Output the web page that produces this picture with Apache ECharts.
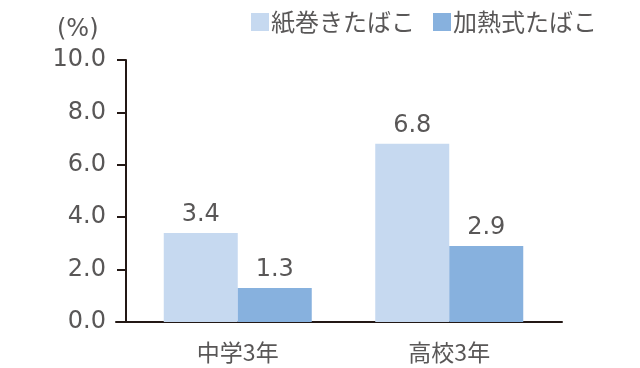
<!DOCTYPE html>
<html>
<head>
<meta charset="utf-8">
<script src="https://cdn.jsdelivr.net/npm/echarts@6/dist/echarts.min.js"></script>
<style>html,body{margin:0;padding:0;background:#fff;}#c{width:640px;height:368px;}</style>
</head>
<body>
<div id="c"></div>
<script>
const categories = ['中学3年', '高校3年'];
const seriesNames = ['紙巻きたばこ', '加熱式たばこ'];
const cigarettes = [3.4, 6.8];
const heated = [1.3, 2.9];
const yTicks = [0, 2, 4, 6, 8, 10];

const textGray = '#595757';
const axisColor = '#231815';
const numFont = 'DejaVu Sans';
const cjkFont = 'Noto Sans CJK JP';

const chart = echarts.init(document.getElementById('c'), null, {renderer: 'canvas'});
chart.setOption({
  animation: false,
  title: {
    text: '(%)', left: 52, top: 13,
    textStyle: {fontFamily: numFont, fontSize: 24, fontWeight: 'normal', color: textGray}
  },
  legend: {
    data: seriesNames, left: 246, top: 5, icon: 'rect',
    itemWidth: 18, itemHeight: 18, itemGap: 18,
    textStyle: {fontFamily: cjkFont, fontSize: 24, color: textGray, padding: [0, 0, 0, -3]}
  },
  grid: [
    {left: 132, right: 85, top: 60, bottom: 46},
    {left: 116, right: 78, top: 60, bottom: 46}
  ],
  xAxis: [
    {
      type: 'category', data: categories, gridIndex: 0,
      axisLine: {show: false}, axisTick: {show: false},
      axisLabel: {fontFamily: cjkFont, fontSize: 23, color: textGray, margin: 19}
    },
    {
      type: 'value', gridIndex: 1, min: 0, max: 1,
      axisLine: {show: true, lineStyle: {color: axisColor, width: 2}},
      axisTick: {show: false}, axisLabel: {show: false}, splitLine: {show: false}
    }
  ],
  yAxis: [
    {
      type: 'value', gridIndex: 0, min: yTicks[0], max: yTicks[yTicks.length - 1], interval: 2,
      offset: 6,
      axisLine: {show: true, lineStyle: {color: axisColor, width: 2}},
      axisTick: {show: true, length: 9, lineStyle: {color: axisColor, width: 2}},
      splitLine: {show: false},
      axisLabel: {fontFamily: numFont, fontSize: 24, color: textGray, margin: 20,
        formatter: v => v.toFixed(1)}
    },
    {
      type: 'value', gridIndex: 1, min: 0, max: 1, show: false
    }
  ],
  series: [
    {
      name: seriesNames[0], type: 'bar', data: cigarettes, barWidth: 74, barGap: '0%',
      itemStyle: {color: '#c6d9f0'},
      label: {show: true, position: 'top', distance: 6, fontFamily: numFont, fontSize: 24, color: textGray,
        formatter: p => p.value.toFixed(1)}
    },
    {
      name: seriesNames[1], type: 'bar', data: heated, barWidth: 74, barGap: '0%',
      itemStyle: {color: '#87b1de'},
      label: {show: true, position: 'top', distance: 6, fontFamily: numFont, fontSize: 24, color: textGray,
        formatter: p => p.value.toFixed(1)}
    }
  ]
});
</script>
</body>
</html>
